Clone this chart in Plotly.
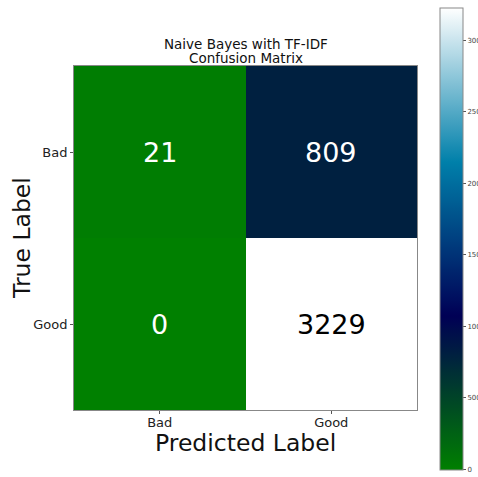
import plotly.graph_objects as go
import numpy as np

# Confusion matrix data
labels = ["Bad", "Good"]
matrix = [[21, 809],
          [0, 3229]]
cbar_ticks = [0, 500, 1000, 1500, 2000, 2500, 3000]
title_lines = ["Naive Bayes with TF-IDF", "Confusion Matrix"]


def ocean(x):
    # matplotlib "ocean" colormap (gnuplot formulas 23, 28, 3)
    r = min(max(3 * x - 2, 0), 1)
    g = min(abs((3 * x - 1) / 2), 1)
    b = min(max(x, 0), 1)
    return f"rgb({round(r*255)},{round(g*255)},{round(b*255)})"


stops = np.linspace(0, 1, 61)
colorscale = [[float(s), ocean(float(s))] for s in stops]

z = np.array(matrix)
zmax = z.max()

W, H = 478, 477
L, R, T, B = 74, 61, 66, 67
plot_w = W - L - R
plot_h = H - T - B


def px_x(px):
    return (px - L) / plot_w


def px_y(py):
    return (H - B - py) / plot_h


fig = go.Figure(go.Heatmap(
    z=matrix, x=labels, y=labels,
    colorscale=colorscale, zmin=0, zmax=zmax,
    hoverinfo="skip",
    colorbar=dict(
        x=px_x(440), xanchor="left",
        y=px_y(238.5), yanchor="middle",
        lenmode="pixels", len=462, thickness=23,
        outlinewidth=1, outlinecolor="#888",
        tickvals=cbar_ticks, ticks="outside", ticklen=3, tickcolor="#555",
        tickfont=dict(size=7, color="#444", family="DejaVu Sans"),
        xpad=0, ypad=0,
    ),
))

thresh = zmax / 2
for i, row in enumerate(matrix):
    for j, v in enumerate(row):
        fig.add_annotation(
            x=labels[j], y=labels[i], text=str(v), showarrow=False,
            font=dict(size=27, color="white" if v < thresh else "black",
                      family="DejaVu Sans"),
        )

# Title, one line per annotation
for k, line in enumerate(title_lines):
    fig.add_annotation(
        text=line, xref="paper", yref="paper",
        x=0.5, y=px_y(44 + 14 * k), xanchor="center", yanchor="middle",
        showarrow=False, font=dict(size=13.5, color="#111"),
    )

# Axis titles
fig.add_annotation(
    text="Predicted Label", xref="paper", yref="paper",
    x=0.5, y=px_y(443), xanchor="center", yanchor="middle",
    showarrow=False, font=dict(size=23.5, color="#111"),
)
fig.add_annotation(
    text="True Label", xref="paper", yref="paper",
    x=px_x(22), y=px_y(238), xanchor="center", yanchor="middle",
    textangle=-90, showarrow=False, font=dict(size=23.5, color="#111"),
)

axis_common = dict(
    showline=True, linecolor="#888", linewidth=1, mirror=True,
    ticks="outside", ticklen=3, tickcolor="#555",
    tickfont=dict(size=13, color="#222", family="DejaVu Sans"),
    showgrid=False, zeroline=False,
)

fig.update_layout(
    width=W, height=H,
    margin=dict(l=L, r=R, t=T, b=B, autoexpand=False),
    paper_bgcolor="white", plot_bgcolor="white",
    font=dict(family="DejaVu Sans"),
    xaxis=dict(ticklabelstandoff=-3, **axis_common),
    yaxis=dict(autorange="reversed", **axis_common),
)

fig.write_html("out.html")
